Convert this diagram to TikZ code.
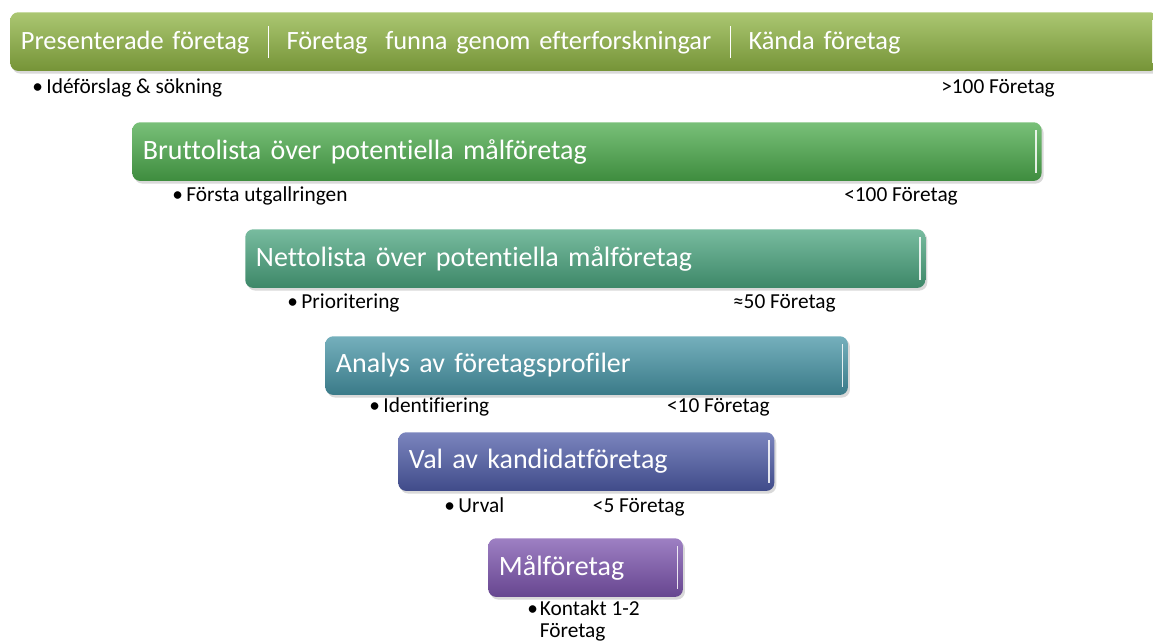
\documentclass[tikz,border=0pt]{standalone}
\usepackage{fontspec}
\setmainfont[Ligatures=NoCommon]{Carlito}
\usetikzlibrary{shadows}

\definecolor{barA}{HTML}{8FB443}
\definecolor{barB}{HTML}{4CAB4C}
\definecolor{barC}{HTML}{4BA57F}
\definecolor{barD}{HTML}{4795A6}
\definecolor{barE}{HTML}{4E5CA8}
\definecolor{barF}{HTML}{7D55AF}

\newcommand{\barsep}{\hspace{14pt}\rule[-6pt]{0.9pt}{24pt}\hspace{13pt}}

\begin{document}
\begin{tikzpicture}[x=0.75pt,y=-0.75pt,
    bar/.style 2 args={anchor=north west, rounded corners=6pt,
        top color=#1!75!white, middle color=#1, bottom color=#1!82!black,
        drop shadow={opacity=0.3, shadow xshift=1.5pt, shadow yshift=-2pt},
        minimum width=#2, text width=#2, minimum height=44pt,
        inner xsep=0pt, align=left, text=white,
        font=\fontsize{21}{24}\selectfont,
        execute at begin node={\hspace*{8pt}},
        path picture={\draw[white, line width=1.2pt, opacity=0.85]
            ([xshift=-4pt,yshift=-6pt]path picture bounding box.north east) --
            ([xshift=-4pt,yshift=6pt]path picture bounding box.south east);}},
    note/.style={anchor=base west, inner sep=0pt, font=\fontsize{16}{16.5}\selectfont},
    count/.style={note, anchor=base east}]
    \useasboundingbox (0,0) rectangle (1153,641);
    % staplar
    \node[bar={barA}{861pt}, font=\fontsize{19.8}{24}\selectfont] (Bar1) at (10,12) {Presenterade företag\barsep Företag\ \ funna genom efterforskningar\barsep Kända företag};
    \node[bar={barB}{682pt}] (Bar2) at (132,122) {Bruttolista över potentiella målföretag};
    \node[bar={barC}{510pt}] (Bar3) at (245,229) {Nettolista över potentiella målföretag};
    \node[bar={barD}{392pt}] (Bar4) at (325,336) {Analys av företagsprofiler};
    \node[bar={barE}{282pt}] (Bar5) at (398,432) {Val av kandidatföretag};
    \node[bar={barF}{146pt}] (Bar6) at (488,538) {Målföretag};
    % texter under staplarna
    \node[note] (Step1) at (32,94) {•\,Idéförslag \& sökning};
    \node[count] (Num1) at (1055,94) {>100 Företag};
    \node[note] (Step2) at (172,202) {•\,Första utgallringen};
    \node[count] (Num2) at (958,202) {<100 Företag};
    \node[note] (Step3) at (287,309) {•\,Prioritering};
    \node[count] (Num3) at (836,309) {≈50 Företag};
    \node[note] (Step4) at (369,412) {•\,Identifiering};
    \node[count] (Num4) at (770,412) {<10 Företag};
    \node[note] (Step5) at (444,512) {•\,Urval};
    \node[count] (Num5) at (685,512) {<5 Företag};
    \node[note] (Step6) at (527,615) {\begin{tabular}[t]{@{}l@{\hspace{1.5pt}}l@{}}•&Kontakt 1-2\\&Företag\end{tabular}};
\end{tikzpicture}
\end{document}
